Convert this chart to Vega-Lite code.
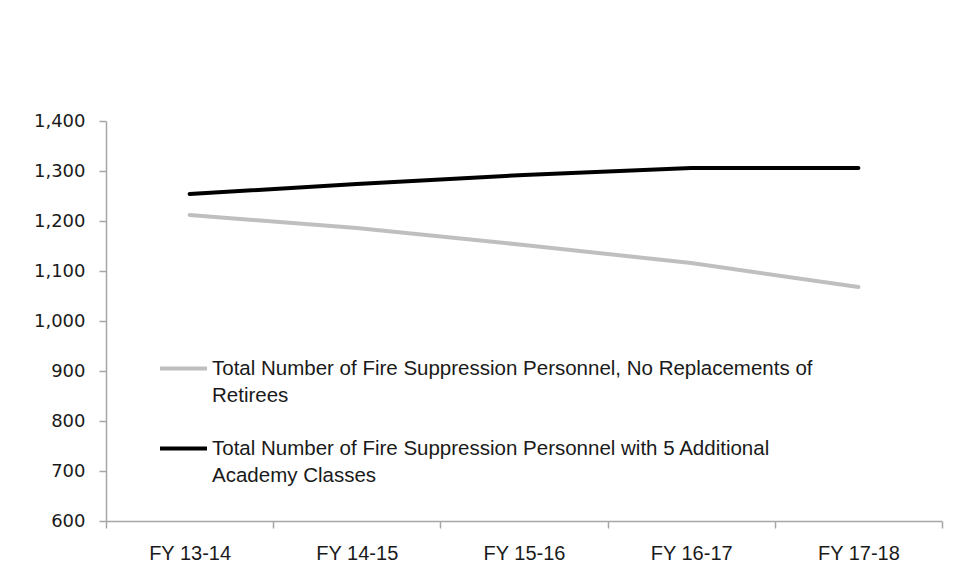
{
  "$schema": "https://vega.github.io/schema/vega-lite/v6.json",
  "width": 836,
  "height": 400,
  "autosize": "none",
  "padding": {"left": 106, "top": 121, "right": 22, "bottom": 56},
  "background": "white",
  "config": {
    "view": {"stroke": null},
    "style": {"guide-label": {"lineHeight": 27}}
  },
  "data": {
    "values": [
      {"year": "FY 13-14", "series": "Total Number of Fire Suppression Personnel, No Replacements of Retirees", "value": 1212},
      {"year": "FY 14-15", "series": "Total Number of Fire Suppression Personnel, No Replacements of Retirees", "value": 1186},
      {"year": "FY 15-16", "series": "Total Number of Fire Suppression Personnel, No Replacements of Retirees", "value": 1152},
      {"year": "FY 16-17", "series": "Total Number of Fire Suppression Personnel, No Replacements of Retirees", "value": 1116},
      {"year": "FY 17-18", "series": "Total Number of Fire Suppression Personnel, No Replacements of Retirees", "value": 1068},
      {"year": "FY 13-14", "series": "Total Number of Fire Suppression Personnel with 5 Additional Academy Classes", "value": 1254},
      {"year": "FY 14-15", "series": "Total Number of Fire Suppression Personnel with 5 Additional Academy Classes", "value": 1274},
      {"year": "FY 15-16", "series": "Total Number of Fire Suppression Personnel with 5 Additional Academy Classes", "value": 1292},
      {"year": "FY 16-17", "series": "Total Number of Fire Suppression Personnel with 5 Additional Academy Classes", "value": 1306},
      {"year": "FY 17-18", "series": "Total Number of Fire Suppression Personnel with 5 Additional Academy Classes", "value": 1306}
    ]
  },
  "mark": {"type": "line", "strokeWidth": 4, "strokeCap": "round"},
  "encoding": {
    "x": {
      "field": "year",
      "type": "ordinal",
      "sort": null,
      "scale": {"type": "band", "paddingInner": 0, "paddingOuter": 0},
      "axis": {
        "title": null,
        "tickBand": "extent",
        "labelAngle": 0,
        "labelFont": "Liberation Sans",
        "labelFontSize": 20,
        "labelColor": "#1a1a1a",
        "labelPadding": 15,
        "tickSize": 7,
        "tickColor": "#a6a6a6",
        "domainColor": "#a6a6a6",
        "domainWidth": 1.5,
        "tickWidth": 1.5
      }
    },
    "y": {
      "field": "value",
      "type": "quantitative",
      "scale": {"domain": [600, 1400]},
      "axis": {
        "title": null,
        "grid": false,
        "values": [600, 700, 800, 900, 1000, 1100, 1200, 1300, 1400],
        "format": ",.0f",
        "labelFont": "DejaVu Sans",
        "labelFontSize": 18,
        "labelColor": "#1a1a1a",
        "labelPadding": 14,
        "tickSize": 7,
        "tickColor": "#a6a6a6",
        "domainColor": "#a6a6a6",
        "domainWidth": 1.5,
        "tickWidth": 1.5
      }
    },
    "color": {
      "field": "series",
      "type": "nominal",
      "scale": {
        "domain": [
          "Total Number of Fire Suppression Personnel, No Replacements of Retirees",
          "Total Number of Fire Suppression Personnel with 5 Additional Academy Classes"
        ],
        "range": ["#bfbfbf", "#000000"]
      },
      "legend": {
        "title": null,
        "orient": "none",
        "legendX": 52,
        "legendY": 222,
        "padding": 0,
        "symbolType": "stroke",
        "symbolSize": 2209,
        "symbolStrokeWidth": 4,
        "labelFont": "Liberation Sans",
        "labelFontSize": 20.5,
        "labelColor": "#1a1a1a",
        "labelOffset": 3,
        "labelLimit": 800,
        "labelBaseline": "middle",
        "rowPadding": 17,
        "labelExpr": "datum.label == 'Total Number of Fire Suppression Personnel, No Replacements of Retirees' ? ['Total Number of Fire Suppression Personnel, No Replacements of', 'Retirees'] : ['Total Number of Fire Suppression Personnel with 5 Additional', 'Academy Classes']"
      }
    }
  }
}
